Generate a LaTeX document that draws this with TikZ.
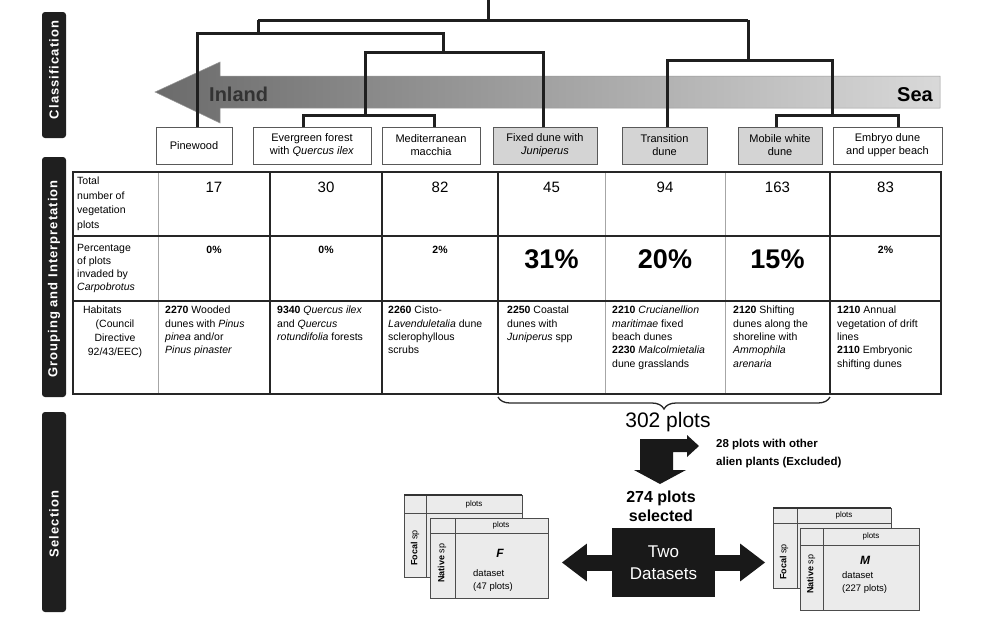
\documentclass[tikz,border=0pt]{standalone}
\usepackage{fontspec}
\setmainfont{Liberation Sans}
\newfontfamily\sidefont[LetterSpace=8]{Liberation Sans}
\usetikzlibrary{decorations.pathreplacing,arrows.meta,calc}
\newcommand{\fsz}[2]{\fontsize{#1}{#2}\selectfont}
\begin{document}
\begin{tikzpicture}[x=1pt,y=-1pt,
  tree/.style={line width=3pt, draw=black!88},
  topbox/.style={draw=black!65, line width=1pt, minimum height=37pt, inner sep=1pt, align=center, font=\fsz{11}{13}},
  grayfill/.style={fill=black!17},
  sidebar/.style={fill=black!88, rounded corners=3pt},
  sidetext/.style={text=white, rotate=90, font=\sidefont\bfseries\fsz{13}{15}},
  thinline/.style={line width=0.8pt, draw=black!35},
  thickline/.style={line width=1.6pt, draw=black!85},
  outerline/.style={line width=2pt, draw=black!85},
  rowlab/.style={anchor=north west, inner sep=0pt, align=left},
  num/.style={font=\fsz{15}{18}, inner sep=0pt},
  pcs/.style={font=\bfseries\fsz{10.5}{12}, inner sep=0pt},
  pcb/.style={font=\bfseries\fsz{27}{30}, inner sep=0pt},
  celltext/.style={anchor=north west, inner sep=0pt, align=left, font=\fsz{10.5}{13.3}},
  bigarrow/.style={line width=16pt, draw=black!90, -{Triangle[width=36pt,length=25pt]}},
  mini/.style={fill=black!8, draw=black!70, line width=0.7pt},
  minitop/.style={line width=1.4pt, draw=black!80},
  minitxt/.style={font=\fsz{8}{10}, inner sep=0pt},
  minirot/.style={font=\fsz{9}{10}, inner sep=0pt, rotate=90}
]
\useasboundingbox (0,0) rectangle (991,622);

% side bars
\fill[sidebar] (42,12) rectangle (66,138);
\fill[sidebar] (42,157) rectangle (66,397);
\fill[sidebar] (42,412) rectangle (66,612);
\node[sidetext] (sbC) at (54,70) {Classification};
\node[sidetext] (sbG) at (54,279) {Grouping and Interpretation};
\node[sidetext] (sbS) at (54,524) {Selection};

% gradient arrow
\shadedraw[left color=black!58, right color=black!15, draw=black!40, line width=0.5pt]
  (155,92) -- (220,62) -- (220,76) -- (940,76) -- (940,108) -- (220,108) -- (220,123) -- cycle;
\node[anchor=west, font=\bfseries\fsz{20}{22}, text=black!80, inner sep=0pt] (inland) at (209,94) {Inland};
\node[anchor=east, font=\bfseries\fsz{20}{22}, inner sep=0pt] (sea) at (933,95) {Sea};

% top boxes
\node[topbox, minimum width=76pt] (pine) at (194,145.5) {Pinewood};
\node[topbox, minimum width=118pt] (ever) at (312,145.5) {Evergreen forest\\with \textit{Quercus ilex}};
\node[topbox, minimum width=98pt] (med) at (431,145.5) {Mediterranean\\macchia};
\node[topbox, grayfill, minimum width=104pt] (fixed) at (545,145.5) {Fixed dune with\\\textit{Juniperus}};
\node[topbox, grayfill, minimum width=85pt] (trans) at (664.5,145.5) {Transition\\dune};
\node[topbox, grayfill, minimum width=84pt] (mob) at (780,145.5) {Mobile white\\dune};
\node[topbox, minimum width=109pt] (emb) at (887.5,145.5) {Embryo dune\\and upper beach};

% dendrogram
\coordinate (top) at (488,0);
\coordinate (j0) at (488,20);
\coordinate (jL) at (258,20);
\coordinate (jR) at (748,20);
\draw[tree] (top) -- (j0);
\draw[tree] (jL) -- (jR);
\draw[tree] (jL) -- (258,33);
\draw[tree] ([xshift=3pt]pine.north) |- (443,33) -- (443,52);
\draw[tree] ([xshift=-2pt]fixed.north) |- (365,52) -- (365,115);
\draw[tree] ([xshift=-9pt]ever.north) |- (434,115) -- ([xshift=3pt]med.north);
\draw[tree] (jR) -- (748,60);
\draw[tree] ([xshift=2.5pt]trans.north) |- (832,60) -- (832,115);
\draw[tree] ([xshift=-4pt]mob.north) |- (898,115) -- ([xshift=10.5pt]emb.north);

% table grid
\draw[thinline] (158,172) -- (158,394);
\draw[thinline] (605,172) -- (605,394);
\draw[thinline] (725,172) -- (725,394);
\draw[thickline] (270,172) -- (270,394);
\draw[thickline] (382,172) -- (382,394);
\draw[thickline] (498,172) -- (498,394);
\draw[thickline] (830,172) -- (830,394);
\draw[thickline] (73,236) -- (941,236);
\draw[thickline] (73,301) -- (941,301);
\draw[outerline] (73,172) rectangle (941,394);

% row labels
\node[rowlab, font=\fsz{10.5}{14.5}] (lab1) at (77,177) {Total\\number of\\vegetation\\plots};
\node[rowlab, font=\fsz{10.5}{13}] (lab2) at (77,244) {Percentage\\of plots\\invaded by\\\textit{Carpobrotus}};
\node[anchor=north, inner sep=0pt, align=center, font=\fsz{10.5}{14}] (lab3) at (115,306) {\makebox[64pt][l]{Habitats}\\(Council\\Directive\\92/43/EEC)};

% row 1 numbers
\node[num] (n1) at (214,187) {17};
\node[num] (n2) at (326,187) {30};
\node[num] (n3) at (440,187) {82};
\node[num] (n4) at (551.5,187) {45};
\node[num] (n5) at (665,187) {94};
\node[num] (n6) at (777.5,187) {163};
\node[num] (n7) at (885.5,187) {83};

% row 2 percentages
\node[pcs] (p1) at (214,250) {0\%};
\node[pcs] (p2) at (326,250) {0\%};
\node[pcs] (p3) at (440,250) {2\%};
\node[pcb] (p4) at (551.5,259) {31\%};
\node[pcb] (p5) at (665,259) {20\%};
\node[pcb] (p6) at (777.5,259) {15\%};
\node[pcs] (p7) at (885.5,250) {2\%};

% row 3 habitats
\node[celltext] (h1) at (165,306) {\textbf{2270} Wooded\\dunes with \textit{Pinus}\\\textit{pinea} and/or\\\textit{Pinus pinaster}};
\node[celltext] (h2) at (277,306) {\textbf{9340} \textit{Quercus ilex}\\and \textit{Quercus}\\\textit{rotundifolia} forests};
\node[celltext] (h3) at (388,306) {\textbf{2260} Cisto-\\\textit{Lavenduletalia} dune\\sclerophyllous\\scrubs};
\node[celltext] (h4) at (507,306) {\textbf{2250} Coastal\\dunes with\\\textit{Juniperus} spp};
\node[celltext] (h5) at (612,306) {\textbf{2210} \textit{Crucianellion}\\\textit{maritimae} fixed\\beach dunes\\\textbf{2230} \textit{Malcolmietalia}\\dune grasslands};
\node[celltext] (h6) at (733,306) {\textbf{2120} Shifting\\dunes along the\\shoreline with\\\textit{Ammophila}\\\textit{arenaria}};
\node[celltext] (h7) at (837,306) {\textbf{1210} Annual\\vegetation of drift\\lines\\\textbf{2110} Embryonic\\shifting dunes};

% brace and selection flow
\draw[line width=1.3pt, draw=black!85, decorate, decoration={brace, amplitude=12pt}] (830,397) -- (498,397);
\node[font=\fsz{21}{24}, inner sep=0pt] (p302) at (668,422) {302 plots};
\fill[black!90] (640,439) -- (687,439) -- (687,435) -- (699,446) -- (687,457) -- (687,452) -- (673,452) -- (673,470) -- (686,470) -- (660,484) -- (634,470) -- (640,470) -- cycle;
\node[anchor=west, align=left, font=\bfseries\fsz{11.5}{18}, inner sep=0pt] (excl) at (716,454) {28 plots with other\\alien plants (Excluded)};
\node[align=center, font=\bfseries\fsz{16}{19}, inner sep=0pt] (sel) at (661,506) {274 plots\\selected};
\node[fill=black!90, text=white, minimum width=103pt, minimum height=69pt, align=center, inner sep=0pt, font=\fsz{17}{22}] (ds) at (663.5,562.5) {Two\\Datasets};
\draw[bigarrow] (ds.west) -- ++(-50,0);
\draw[bigarrow] (ds.east) -- ++(50,0);

% left mini tables
\filldraw[mini] (404,495) rectangle (522,577);
\draw[mini] (404,513) -- (522,513);
\draw[mini] (426,495) -- (426,577);
\draw[minitop] (404,495) -- (522,495);
\node[minitxt] (lbh) at (474,504) {plots};
\node[minirot] (lbr) at (415,548) {\textbf{Focal} sp};
\filldraw[mini] (430,518) rectangle (548,598);
\draw[mini] (430,533) -- (548,533);
\draw[mini] (455,518) -- (455,598);
\node[minitxt] (lfh) at (501,525.5) {plots};
\node[minirot] (lfr) at (442,563) {\textbf{Native} sp};
\node[font=\bfseries\itshape\fsz{12}{14}, inner sep=0pt] (lfF) at (500,553) {F};
\node[anchor=north west, align=left, font=\fsz{9.5}{13}, inner sep=0pt] (lft) at (473,569) {dataset\\(47 plots)};

% right mini tables
\filldraw[mini] (773,508) rectangle (891,588);
\draw[mini] (773,523) -- (891,523);
\draw[mini] (797,508) -- (797,588);
\draw[minitop] (773,508) -- (891,508);
\node[minitxt] (rbh) at (844,515.5) {plots};
\node[minirot] (rbr) at (784,562) {\textbf{Focal} sp};
\filldraw[mini] (800,528) rectangle (919,610);
\draw[mini] (800,545) -- (919,545);
\draw[mini] (823,528) -- (823,610);
\node[minitxt] (rfh) at (871,536.5) {plots};
\node[minirot] (rfr) at (811,574) {\textbf{Native} sp};
\node[font=\bfseries\itshape\fsz{12}{14}, inner sep=0pt] (rfM) at (865,560) {M};
\node[anchor=north west, align=left, font=\fsz{9.5}{13}, inner sep=0pt] (rft) at (842,571) {dataset\\(227 plots)};
\end{tikzpicture}
\end{document}
